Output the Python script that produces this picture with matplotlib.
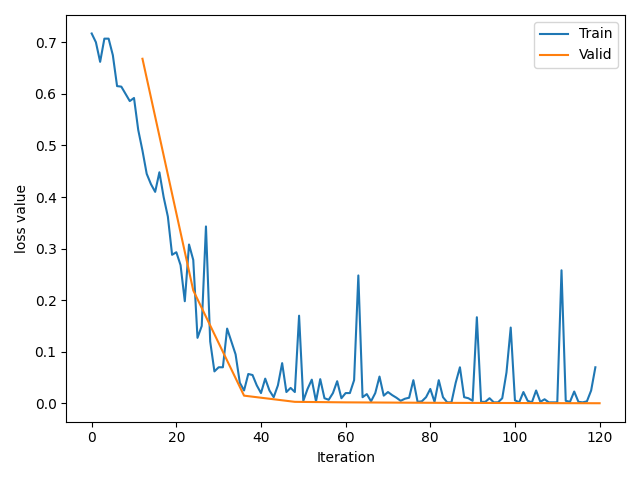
import numpy as np
import matplotlib
matplotlib.use("Agg")
import matplotlib.pyplot as plt

train_loss = [0.717, 0.700, 0.662, 0.707, 0.707, 0.675, 0.615, 0.614, 0.600, 0.586,
              0.592, 0.530, 0.490, 0.445, 0.425, 0.410, 0.448, 0.400, 0.362, 0.288,
              0.293, 0.268, 0.198, 0.308, 0.278, 0.127, 0.150, 0.343, 0.120, 0.062,
              0.070, 0.070, 0.145, 0.120, 0.095, 0.040, 0.025, 0.057, 0.055, 0.035,
              0.020, 0.048, 0.025, 0.012, 0.035, 0.078, 0.022, 0.030, 0.022, 0.170,
              0.005, 0.028, 0.046, 0.004, 0.047, 0.010, 0.007, 0.020, 0.043, 0.010,
              0.020, 0.020, 0.045, 0.248, 0.012, 0.018, 0.004, 0.020, 0.052, 0.015,
              0.022, 0.016, 0.011, 0.005, 0.009, 0.011, 0.045, 0.003, 0.004, 0.012,
              0.028, 0.003, 0.045, 0.012, 0.002, 0.002, 0.040, 0.070, 0.012, 0.010,
              0.005, 0.167, 0.003, 0.003, 0.010, 0.002, 0.002, 0.010, 0.060, 0.147,
              0.006, 0.002, 0.022, 0.005, 0.002, 0.025, 0.003, 0.008, 0.002, 0.002,
              0.002, 0.258, 0.005, 0.003, 0.023, 0.003, 0.002, 0.004, 0.025, 0.070]
valid_iter = [12, 24, 36, 48, 60, 72, 84, 96, 108, 120]
valid_loss = [0.668, 0.219, 0.015, 0.003, 0.002, 0.0015, 0.001, 0.0008, 0.0005, 0.0003]

fig, ax = plt.subplots(figsize=(6.4, 4.8), dpi=100)
ax.plot(np.arange(len(train_loss)), train_loss, label='Train')
ax.plot(valid_iter, valid_loss, label='Valid')
ax.set_xlabel('Iteration')
ax.set_ylabel('loss value')
ax.legend(loc='upper right')
fig.tight_layout()
fig.savefig('out.png')
